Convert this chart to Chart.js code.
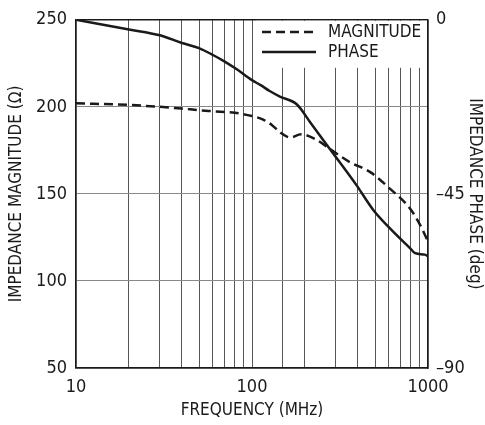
<!DOCTYPE html>
<html>
<head>
<meta charset="utf-8">
<script src="https://cdn.jsdelivr.net/npm/chart.js@4/dist/chart.umd.min.js"></script>
<style>
  html, body { margin: 0; padding: 0; background: #fff; }
  #wrap { width: 485px; height: 425px; }
</style>
</head>
<body>
<div id="wrap"><canvas id="chart"></canvas></div>
<script>
// values
const magFreq  = [10, 20, 30, 40, 50, 60, 70, 80, 100, 115, 130, 145, 165, 190, 230, 280, 360, 470, 600, 790, 900, 1000];
const magnitude = [202, 201.1, 200, 199, 198.1, 197.5, 197, 196.6, 194.7, 192.8, 189.5, 185.2, 182.4, 184.2, 181.4, 175.5, 168.2, 162.5, 153.5, 141.6, 132.4, 122.7];

const phaseFreq = [10, 20, 30, 40, 50, 60, 70, 82, 100, 112, 126, 145, 180, 215, 277, 393, 490, 608, 790, 845, 960, 1000];
const phase     = [0, -2.5, -4.0, -6.0, -7.3, -9.1, -10.8, -12.8, -15.6, -16.9, -18.4, -19.9, -21.9, -26.6, -33.4, -42.8, -49.2, -53.9, -59, -60.3, -60.7, -61.1];

const xTickLabels = [10, 100, 1000];
const leftTicks = [50, 100, 150, 200, 250];
const rightTicks = [-90, -45, 0];

const FONT = "'Liberation Sans Narrow', 'DejaVu Sans Condensed', 'Liberation Sans', sans-serif";
const INK = "#1a1a1a";

const pts = (xs, ys) => xs.map((x, i) => ({ x: x, y: ys[i] }));

// legend drawn inside the plot, on a white patch that hides the grid
const innerLegend = {
  id: "innerLegend",
  afterDatasetsDraw(chart){
    const { ctx, chartArea: a } = chart;
    ctx.save();
    ctx.fillStyle = "#fff";
    ctx.fillRect(256, a.top + 1, a.right - 257, 47);
    ctx.font = "17px " + FONT;
    ctx.textBaseline = "middle";
    chart.data.datasets.forEach((ds, i) => {
      const y = 32 + i * 20;
      ctx.strokeStyle = ds.borderColor;
      ctx.lineWidth = ds.borderWidth;
      ctx.setLineDash(ds.borderDash || []);
      ctx.beginPath(); ctx.moveTo(262, y); ctx.lineTo(316, y); ctx.stroke();
      ctx.setLineDash([]);
      ctx.fillStyle = INK;
      ctx.fillText(ds.label, 328, y + 1);
    });
    ctx.restore();
  }
};

new Chart(document.getElementById("chart"), {
  type: "line",
  data: {
    datasets: [
      { label: "MAGNITUDE", data: pts(magFreq, magnitude), yAxisID: "y",
        borderColor: INK, borderWidth: 2.5, borderDash: [9, 5], pointRadius: 0,
        cubicInterpolationMode: "monotone" },
      { label: "PHASE", data: pts(phaseFreq, phase), yAxisID: "y2",
        borderColor: INK, borderWidth: 2.5, pointRadius: 0,
        cubicInterpolationMode: "monotone" }
    ]
  },
  options: {
    responsive: true, maintainAspectRatio: false, animation: false,
    layout: { padding: { top: 16, left: 0, right: 0, bottom: 0 } },
    plugins: { legend: { display: false }, tooltip: { enabled: false } },
    scales: {
      x: {
        type: "logarithmic", min: 10, max: 1000,
        afterFit: s => { s.height = 57; },
        grid: {
          drawTicks: false,
          color: c => (c.tick.value === 10 || c.tick.value === 1000) ? INK : "#555",
          lineWidth: c => (c.tick.value === 10 || c.tick.value === 1000) ? 1.5 : 1
        },
        border: { color: INK, width: 1.5 },
        ticks: {
          autoSkip: false, maxRotation: 0, padding: 9, color: INK,
          font: { family: FONT, size: 18 },
          callback: v => xTickLabels.includes(v) ? String(v) : ""
        },
        title: { display: true, text: "FREQUENCY (MHz)", color: INK, font: { family: FONT, size: 17 }, padding: { top: 2 } }
      },
      y: {
        position: "left", min: 50, max: 250,
        afterFit: s => { s.width = 76; },
        afterBuildTicks: s => { s.ticks = leftTicks.map(v => ({ value: v })); },
        grid: {
          drawTicks: false,
          color: c => (c.tick.value === 250 || c.tick.value === 50) ? INK : "#888",
          lineWidth: c => (c.tick.value === 250 || c.tick.value === 50) ? 1.5 : 1
        },
        border: { color: INK, width: 1.5 },
        ticks: { padding: 9, color: INK, font: { family: FONT, size: 18 } },
        title: { display: true, text: "IMPEDANCE MAGNITUDE (Ω)", color: INK, font: { family: FONT, size: 17 }, padding: { top: 6, bottom: 0 } }
      },
      y2: {
        position: "right", min: -90, max: 0,
        afterFit: s => { s.width = 57; },
        afterBuildTicks: s => { s.ticks = rightTicks.map(v => ({ value: v })); },
        grid: { display: false, drawTicks: false },
        border: { color: INK, width: 1.5 },
        ticks: { padding: 8, color: INK, font: { family: FONT, size: 18 },
          callback: v => String(v).replace("-", "–") },
        title: { display: true, text: "IMPEDANCE PHASE (deg)", color: INK, font: { family: FONT, size: 17 }, padding: { top: 0, bottom: 0 } }
      }
    }
  },
  plugins: [innerLegend]
});
</script>
</body>
</html>
